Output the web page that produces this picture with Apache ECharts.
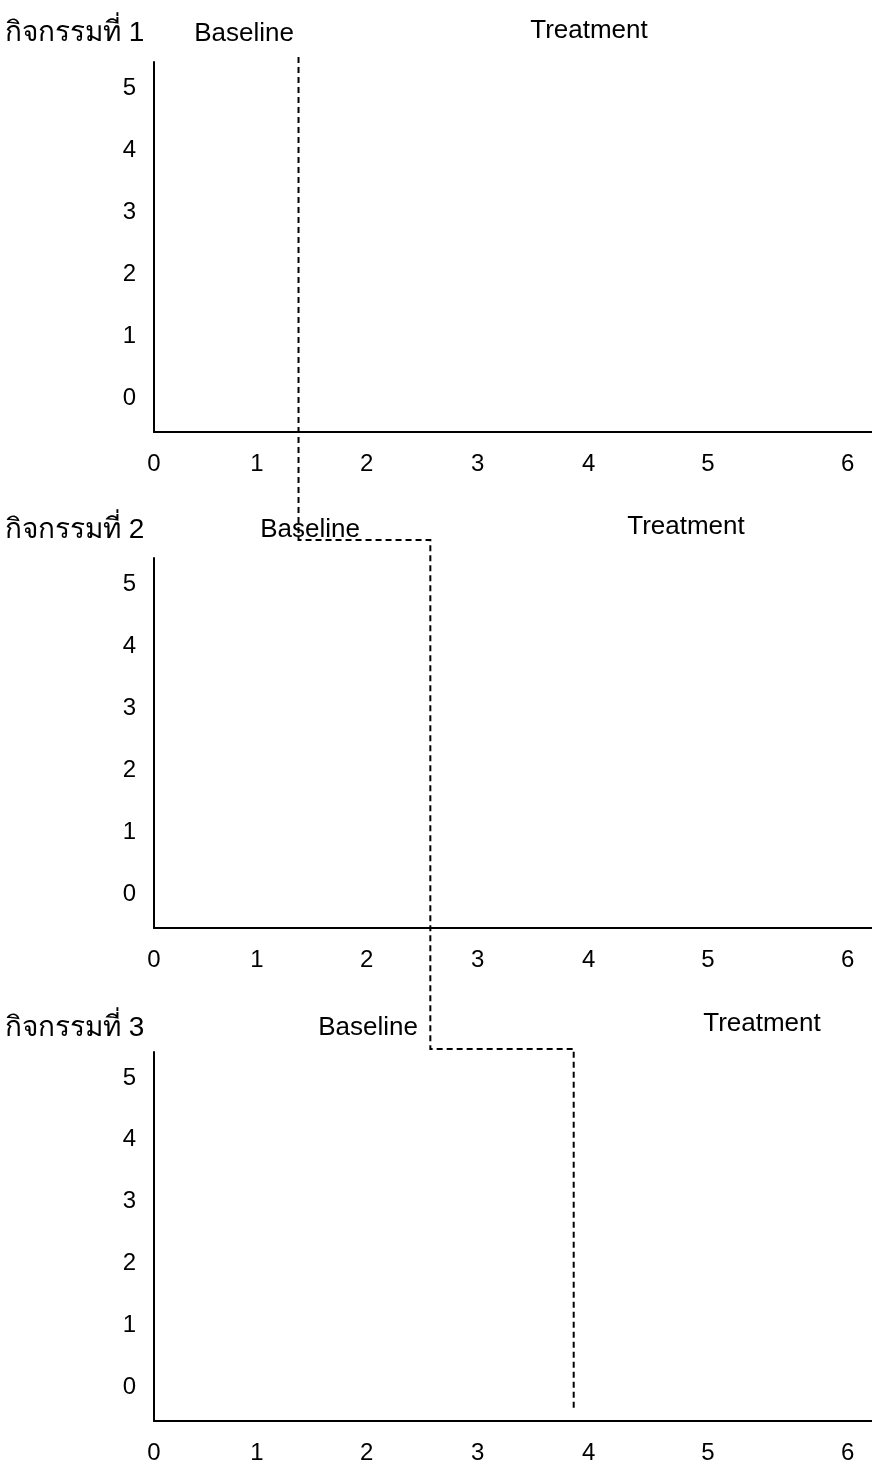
<!DOCTYPE html>
<html>
<head>
<meta charset="utf-8">
<script src="https://cdn.jsdelivr.net/npm/echarts@6/dist/echarts.min.js"></script>
<style>
  html, body { margin: 0; padding: 0; background: #fff; }
  #chart { width: 872px; height: 1465px; }
</style>
</head>
<body>
<div id="chart"></div>
<script>
// ---- data ----
const panelTitles = ['กิจกรรมที่ 1', 'กิจกรรมที่ 2', 'กิจกรรมที่ 3'];
const baselineLabel = 'Baseline';
const treatmentLabel = 'Treatment';
const yTickValues = [0, 1, 2, 3, 4, 5];
const xTickLabels = ['0', '1', '2', '3', '4', '5', '6'];
// positions of the session tick labels along the (unevenly drawn) x axis
const xTickPos = [0, 0.89, 1.84, 2.80, 3.76, 4.79, 6.0];
// phase-change line position for each panel (x axis units)
const phaseChangeX = [1.25, 2.39, 3.63];
// data points per panel (the chart shows none)
const panelData = [[], [], []];

// ---- layout ----
const FONT = '"Liberation Sans", Arial, "Noto Sans", "DejaVu Sans", sans-serif';
const gridTops = [62, 558, 1052];
const gridH = 370;
const xMin = 0, xMax = 6.21, yMin = -0.55, yMax = 5.42;

const chart = echarts.init(document.getElementById('chart'), null, { renderer: 'canvas' });

const grids = [], xAxes = [], yAxes = [], series = [];
gridTops.forEach((top, i) => {
  grids.push({ left: 154, right: 0, top: top, height: gridH, containLabel: false });
  xAxes.push({
    type: 'value', gridIndex: i, min: xMin, max: xMax,
    axisLine: { show: true, onZero: false, lineStyle: { color: '#000', width: 2 } },
    axisTick: { show: false },
    splitLine: { show: false },
    axisLabel: {
      customValues: xTickPos,
      margin: 20, color: '#000', fontSize: 24, fontFamily: FONT,
      formatter: function (v) {
        let best = 0, d = Infinity;
        xTickPos.forEach((p, k) => { if (Math.abs(p - v) < d) { d = Math.abs(p - v); best = k; } });
        return xTickLabels[best];
      }
    }
  });
  yAxes.push({
    type: 'value', gridIndex: i, min: yMin, max: yMax,
    axisLine: { show: true, lineStyle: { color: '#000', width: 2 } },
    axisTick: { show: false },
    splitLine: { show: false },
    axisLabel: {
      customValues: yTickValues,
      margin: 18, color: '#000', fontSize: 24, fontFamily: FONT
    }
  });
  series.push({ type: 'scatter', xAxisIndex: i, yAxisIndex: i, data: panelData[i], symbolSize: 8, itemStyle: { color: '#000' } });
});

const textPos = [
  { title: [5, 33], base: [244, 34], treat: [589, 31] },
  { title: [5, 530], base: [310, 530], treat: [686, 527] },
  { title: [5, 1028], base: [368, 1028], treat: [762, 1024] }
];
const graphics = [];
textPos.forEach((p, i) => {
  const common = { fill: '#000', fontFamily: FONT, textVerticalAlign: 'middle' };
  graphics.push({ type: 'text', x: p.title[0], y: p.title[1], style: Object.assign({ text: panelTitles[i], textAlign: 'left', fontSize: 28 }, common) });
  graphics.push({ type: 'text', x: p.base[0], y: p.base[1], style: Object.assign({ text: baselineLabel, textAlign: 'center', fontSize: 26 }, common) });
  graphics.push({ type: 'text', x: p.treat[0], y: p.treat[1], style: Object.assign({ text: treatmentLabel, textAlign: 'center', fontSize: 26 }, common) });
});

chart.setOption({
  animation: false,
  backgroundColor: '#fff',
  grid: grids, xAxis: xAxes, yAxis: yAxes, series: series,
  graphic: graphics
});

// staircase phase-change line, located through each panel's own scales
const px = (g, x, y) => chart.convertToPixel({ xAxisIndex: g, yAxisIndex: g }, [x, y]);
const stairPts = [
  px(0, phaseChangeX[0], 5.5),
  px(1, phaseChangeX[0], 5.71),
  px(1, phaseChangeX[1], 5.71),
  px(2, phaseChangeX[1], 5.47),
  px(2, phaseChangeX[2], 5.47),
  px(2, phaseChangeX[2], -0.39)
];
chart.setOption({
  graphic: graphics.concat([{
    type: 'polyline', id: 'stair', z: 10,
    shape: { points: stairPts },
    style: { stroke: '#000', lineWidth: 2, lineDash: [6, 4], fill: null }
  }])
});
</script>
</body>
</html>
